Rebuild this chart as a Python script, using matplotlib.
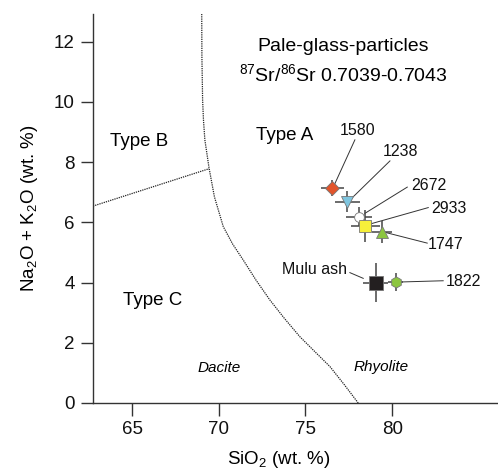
import numpy as np
import matplotlib.pyplot as plt

plt.rcParams['font.family'] = ['Liberation Sans', 'DejaVu Sans']
plt.rcParams['mathtext.fontset'] = 'custom'
plt.rcParams['mathtext.rm'] = 'Liberation Sans'

# Samples: SiO2, Na2O+K2O and their errors (wt. %)
names = ['1580', '1238', '2672', '2933', '1747', 'Mulu ash', '1822']
sio2 = [76.54, 77.41, 78.10, 78.45, 79.41, 79.04, 80.21]
alk = [7.13, 6.69, 6.19, 5.88, 5.67, 4.00, 4.02]
sio2_err = [0.67, 0.72, 0.74, 0.84, 0.58, 0.71, 0.43]
alk_err = [0.27, 0.35, 0.32, 0.53, 0.36, 0.66, 0.30]
markers = ['D', 'v', 'o', 's', '^', 's', 'h']
colors = ['#e2542b', '#7fc6e0', '#ffffff', '#f6f03a', '#8cc63f', '#231f20',
          '#8cc63f']
sizes = [7, 8, 7, 8, 8, 9.5, 8]

# Label positions and leader lines (start at label, end at marker)
label_x = [78.02, 80.50, 82.12, 83.27, 83.08, 77.37, 83.08]
label_y = [9.05, 8.35, 7.21, 6.47, 5.25, 4.44, 4.03]
label_ha = ['center', 'center', 'center', 'center', 'center', 'right', 'left']
lead_x0 = [77.85, 79.87, 80.87, 82.08, 82.02, 77.56, 80.54]
lead_y0 = [8.74, 8.04, 7.17, 6.49, 5.31, 4.33, 4.02]
lead_x1 = [76.66, 77.56, 78.43, 78.76, 79.64, 78.33, 82.94]
lead_y1 = [7.24, 6.74, 6.30, 5.95, 5.66, 4.14, 4.06]

# Type A / Type C boundary (dotted curve) and Type B / Type C line
curve_x = [69.02, 69.03, 69.07, 69.12, 69.20, 69.44, 69.75, 70.26, 70.80,
           71.41, 72.15, 72.95, 73.80, 74.68, 75.55, 76.41, 77.25, 78.04]
curve_y = [12.92, 11.50, 10.07, 9.40, 8.74, 7.81, 6.85, 5.86, 5.28,
           4.75, 4.08, 3.42, 2.80, 2.20, 1.70, 1.21, 0.60, 0.0]
bc_x = [62.75, 69.44]
bc_y = [6.54, 7.78]

fig = plt.figure(figsize=(4.98, 4.74), dpi=100)
ax = fig.add_axes([0.1867, 0.1498, 0.8133, 0.8207])

ax.plot(curve_x, curve_y, color='#222222', lw=0.9, ls=(0, (1, 0.8)))
ax.plot(bc_x, bc_y, color='#222222', lw=0.9, ls=(0, (1, 0.8)))

for i in range(len(names)):
    ax.plot([lead_x0[i], lead_x1[i]], [lead_y0[i], lead_y1[i]],
            color='#333333', lw=0.7, zorder=2)
    ax.errorbar(sio2[i], alk[i], xerr=sio2_err[i], yerr=alk_err[i],
                fmt='none', ecolor='#444444', elinewidth=1.1, capsize=0,
                zorder=3)
    ax.plot(sio2[i], alk[i], marker=markers[i], ms=sizes[i],
            mfc=colors[i], mec='#777777', mew=0.6, ls='none', zorder=4)
    ax.text(label_x[i], label_y[i], names[i], ha=label_ha[i], va='center',
            fontsize=11.5, color='#111111')

ax.text(77.16, 11.83, 'Pale-glass-particles', ha='center', va='center',
        fontsize=14)
ax.text(77.16, 10.9, r'$^{87}$Sr/$^{86}$Sr 0.7039-0.7043', ha='center',
        va='center', fontsize=14)
ax.text(73.82, 8.9, 'Type A', ha='center', va='center', fontsize=13.5)
ax.text(63.73, 8.68, 'Type B', ha='left', va='center', fontsize=13.5)
ax.text(64.48, 3.42, 'Type C', ha='left', va='center', fontsize=13.5)
ax.text(70.05, 1.15, 'Dacite', ha='center', va='center', fontsize=11,
        style='italic')
ax.text(79.34, 1.21, 'Rhyolite', ha='center', va='center', fontsize=11,
        style='italic')

ax.set_xlim(62.75, 86.1)
ax.set_ylim(0, 12.92)
ax.set_xticks([65, 70, 75, 80])
ax.set_yticks([0, 2, 4, 6, 8, 10, 12])
ax.tick_params(direction='out', length=9, width=1, colors='#333333',
               labelsize=13.5, labelcolor='#111111', pad=4)
for side in ['top', 'right']:
    ax.spines[side].set_visible(False)
for side in ['left', 'bottom']:
    ax.spines[side].set_color('#333333')
    ax.spines[side].set_linewidth(1)

ax.set_xlabel(r'SiO$_2$ (wt. %)', fontsize=13.5, x=0.459, labelpad=8)
ax.set_ylabel(r'Na$_2$O + K$_2$O (wt. %)', fontsize=13.5, labelpad=10)

fig.savefig('out.png', dpi=100)
